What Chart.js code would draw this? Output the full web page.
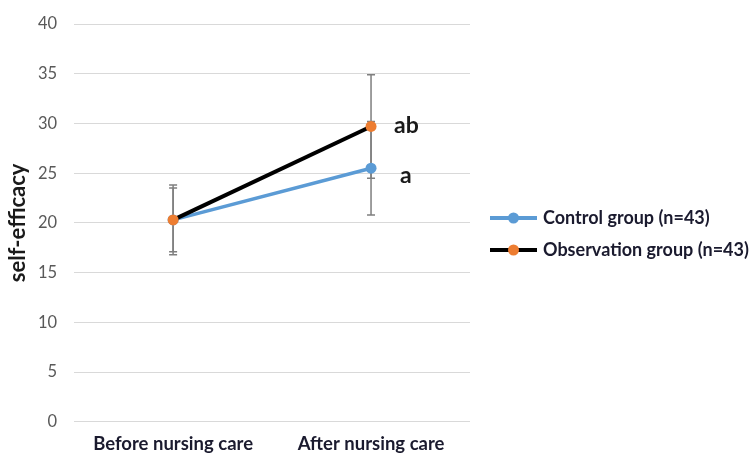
<!DOCTYPE html>
<html>
<head>
<meta charset="utf-8">
<script src="https://cdn.jsdelivr.net/npm/chart.js@4/dist/chart.umd.min.js"></script>
<style>
html,body{margin:0;padding:0;background:#fff;}
#wrap{width:756px;height:455px;}
</style>
</head>
<body>
<div id="wrap"><canvas id="c" width="756" height="455"></canvas></div>
<script>
const categories = ['Before nursing care', 'After nursing care'];
const seriesNames = ['Control group (n=43)', 'Observation group (n=43)'];
const controlMean = [20.3, 25.5];
const controlSD = [3.5, 4.7];
const observationMean = [20.3, 29.7];
const observationSD = [3.2, 5.2];
const controlMarks = ['', 'a'];
const observationMarks = ['', 'ab'];
const yMin = 0, yMax = 40, yStep = 5;
const yTitle = 'self-efficacy';

const BLUE = '#5B9BD5', ORANGE = '#ED7D31', BLACK = '#000000', GREY = '#7F7F7F';
const FONT = 'Lato, "Open Sans", sans-serif';

const errorBars = {
  id: 'errorBars',
  beforeDatasetsDraw(chart) {
    const ctx = chart.ctx, y = chart.scales.y;
    chart.data.datasets.forEach((ds, di) => {
      const meta = chart.getDatasetMeta(di);
      meta.data.forEach((pt, i) => {
        const m = ds.data[i], s = ds.sd[i];
        const yt = y.getPixelForValue(m + s), yb = y.getPixelForValue(m - s);
        ctx.save();
        ctx.strokeStyle = GREY; ctx.lineWidth = 1.5;
        ctx.beginPath();
        ctx.moveTo(pt.x, yt); ctx.lineTo(pt.x, yb);
        ctx.moveTo(pt.x - 4, yt); ctx.lineTo(pt.x + 4, yt);
        ctx.moveTo(pt.x - 4, yb); ctx.lineTo(pt.x + 4, yb);
        ctx.stroke();
        ctx.restore();
      });
    });
  },
  afterDatasetsDraw(chart) {
    const ctx = chart.ctx;
    chart.data.datasets.forEach((ds, di) => {
      const meta = chart.getDatasetMeta(di);
      meta.data.forEach((pt, i) => {
        const t = ds.marks[i];
        if (!t) return;
        ctx.save();
        ctx.fillStyle = '#1a1a1a';
        ctx.font = 'bold 23px ' + FONT;
        ctx.textAlign = 'left'; ctx.textBaseline = 'middle';
        ctx.fillText(t, pt.x + ds.markDx, pt.y + ds.markDy);
        ctx.restore();
      });
    });
  },
  afterDraw(chart) {
    const ctx = chart.ctx;
    const items = [
      {name: seriesNames[0], line: BLUE, dot: BLUE, y: 218},
      {name: seriesNames[1], line: BLACK, dot: ORANGE, y: 250}
    ];
    items.forEach(it => {
      ctx.save();
      ctx.strokeStyle = it.line; ctx.lineWidth = 4;
      ctx.beginPath(); ctx.moveTo(490, it.y); ctx.lineTo(537, it.y); ctx.stroke();
      ctx.fillStyle = it.dot;
      ctx.beginPath(); ctx.arc(513.5, it.y, 5.5, 0, Math.PI * 2); ctx.fill();
      ctx.fillStyle = '#1a1a2e';
      ctx.font = 'bold 18px ' + FONT;
      ctx.textAlign = 'left'; ctx.textBaseline = 'middle';
      ctx.fillText(it.name, 543, it.y);
      ctx.restore();
    });
  }
};

new Chart(document.getElementById('c'), {
  type: 'line',
  data: {
    labels: categories,
    datasets: [
      {
        label: seriesNames[0], data: controlMean, sd: controlSD, marks: controlMarks,
        markDx: 29, markDy: 7,
        borderColor: BLUE, backgroundColor: BLUE, pointBackgroundColor: BLUE,
        pointBorderColor: BLUE, borderWidth: 3.5, pointRadius: 5.5, pointBorderWidth: 0,
        order: 1
      },
      {
        label: seriesNames[1], data: observationMean, sd: observationSD, marks: observationMarks,
        markDx: 23, markDy: -1,
        borderColor: BLACK, backgroundColor: ORANGE, pointBackgroundColor: ORANGE,
        pointBorderColor: ORANGE, borderWidth: 4, pointRadius: 5.5, pointBorderWidth: 0,
        order: 0
      }
    ]
  },
  options: {
    responsive: false,
    animation: false,
    layout: { padding: { left: 4, right: 286, top: 16, bottom: -11 } },
    plugins: { legend: { display: false }, tooltip: { enabled: false } },
    scales: {
      x: {
        offset: true,
        grid: { display: false, drawTicks: false },
        border: { display: false },
        ticks: { padding: 11, color: '#1a1a2e', font: { family: FONT, size: 18.5, weight: 'bold' } }
      },
      y: {
        min: yMin, max: yMax,
        grid: { color: '#D9D9D9', lineWidth: 1, drawTicks: false },
        border: { display: false },
        ticks: { stepSize: yStep, padding: 17, color: '#595959',
                 font: { family: FONT, size: 16.5, lineHeight: 0.85 } },
        title: { display: true, text: yTitle, color: '#1a1a1a', padding: { top: 1, bottom: -10.4 },
                 font: { family: FONT, size: 22, weight: 'bold' } }
      }
    }
  },
  plugins: [errorBars]
});
</script>
</body>
</html>
